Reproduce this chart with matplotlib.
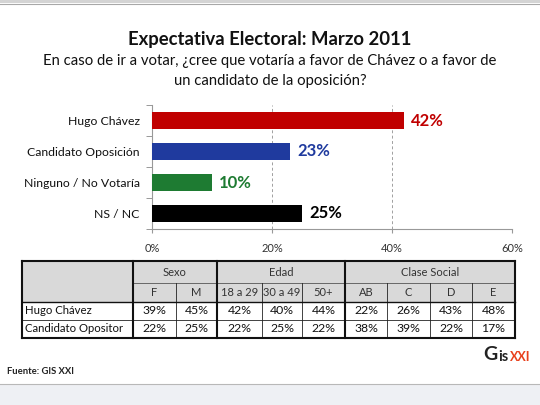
import matplotlib
matplotlib.use("Agg")
import matplotlib.pyplot as plt
from matplotlib.patches import Rectangle

plt.rcParams["font.family"] = ["Lato", "DejaVu Sans"]

# --- data ---
categories = ["Hugo Chávez", "Candidato Oposición", "Ninguno / No Votaría", "NS / NC"]
values = [42, 23, 10, 25]
bar_colors = ["#c00000", "#1f3a9e", "#1e7b32", "#000000"]
label_colors = ["#c00000", "#1f3a9e", "#1e7b32", "#000000"]
xticks = [0, 20, 40, 60]

groups = ["Sexo", "Edad", "Clase Social"]
group_sizes = [2, 3, 4]
subheaders = ["F", "M", "18 a 29", "30 a 49", "50+", "AB", "C", "D", "E"]
row_labels = ["Hugo Chávez", "Candidato Opositor"]
row_chavez = [39, 45, 42, 40, 44, 22, 26, 43, 48]
row_opositor = [22, 25, 22, 25, 22, 38, 39, 22, 17]

W, H = 540, 405
fig = plt.figure(figsize=(W / 100, H / 100), dpi=100, facecolor="white")

# background / frame overlay in pixel coords
bg = fig.add_axes([0, 0, 1, 1])
bg.set_xlim(0, W)
bg.set_ylim(H, 0)
bg.axis("off")
bg.add_patch(Rectangle((0, 0), W, 3, color="#d4d4d4", lw=0))
bg.plot([0, W], [3.5, 3.5], color="#a8a8a8", lw=0.8)
bg.add_patch(Rectangle((0, 384), W, H - 384, color="#eef0f4", lw=0))
bg.plot([0, W], [383.5, 383.5], color="#b8b8b8", lw=0.8)

# titles
bg.text(270, 40, "Expectativa Electoral: Marzo 2011", ha="center", va="center",
        fontsize=13.3, fontweight="bold", color="#111111")
bg.text(270, 61, "En caso de ir a votar, ¿cree que votaría a favor de Chávez o a favor de",
        ha="center", va="center", fontsize=10.7, color="#111111")
bg.text(270, 81, "un candidato de la oposición?", ha="center", va="center",
        fontsize=10.7, color="#111111")

# --- bar chart ---
ax = fig.add_axes([152 / W, 1 - 229 / H, (512 - 152) / W, (229 - 105) / H])
ypos = list(range(len(categories)))
ax.barh(ypos, values, height=0.55, color=bar_colors, zorder=3)
ax.set_xlim(0, 60)
ax.set_ylim(len(categories) - 0.5, -0.5)
ax.set_xticks(xticks)
ax.set_xticklabels([f"{t}%" for t in xticks], fontsize=8, color="#333333")
ax.set_yticks(ypos)
ax.set_yticklabels(categories, fontsize=8.8, color="#111111")
ax.set_yticks([i - 0.5 for i in range(len(categories) + 1)], minor=True)
ax.tick_params(axis="y", which="major", length=0, pad=9)
ax.tick_params(axis="y", which="minor", length=4, color="#888888", direction="out")
ax.tick_params(axis="x", length=3, color="#999999", direction="out", pad=7)
for s in ["top", "right"]:
    ax.spines[s].set_visible(False)
for s in ["left", "bottom"]:
    ax.spines[s].set_color("#999999")
    ax.spines[s].set_linewidth(0.8)
for t in xticks[1:]:
    ax.axvline(t, color="#a0a0a0", lw=0.7, ls=(0, (3, 2.5)), zorder=1)
for y, v, c in zip(ypos, values, label_colors):
    ax.annotate(f"{v}%", (v, y), xytext=(5, 0), textcoords="offset points",
                va="center", ha="left", fontsize=12, fontweight="bold", color=c)

# --- table (pixel coords) ---
col_x = [22, 133, 176, 217, 262, 302, 345, 387, 430, 472, 515]
row_y = [261, 283, 302, 320, 338]
thin = 0.6
thick = 1.5

bg.add_patch(Rectangle((col_x[0], row_y[0]), col_x[-1] - col_x[0], row_y[2] - row_y[0],
                       facecolor="#d9d9d9", lw=0))
# thin lines
bg.plot([col_x[1], col_x[-1]], [row_y[1], row_y[1]], color="#555555", lw=thin)
bg.plot([col_x[0], col_x[-1]], [row_y[3], row_y[3]], color="#222222", lw=thin)
for x in col_x[1:-1]:
    bg.plot([x, x], [row_y[1], row_y[-1]], color="#222222", lw=thin)
# thick lines
bg.plot([col_x[0], col_x[-1]], [row_y[2], row_y[2]], color="#111111", lw=1.0)
group_edges = [0, 1]
acc = 1
for n in group_sizes:
    acc += n
    group_edges.append(acc)
for gi in group_edges:
    bg.plot([col_x[gi], col_x[gi]], [row_y[0], row_y[-1]], color="#111111", lw=thick)
bg.plot([col_x[0], col_x[-1]], [row_y[0], row_y[0]], color="#111111", lw=thick)
bg.plot([col_x[0], col_x[-1]], [row_y[-1], row_y[-1]], color="#111111", lw=thick)

tfs = 8.2
for g, a, b in zip(groups, group_edges[1:-1], group_edges[2:]):
    bg.text((col_x[a] + col_x[b]) / 2, (row_y[0] + row_y[1]) / 2, g, ha="center",
            va="center", fontsize=8, color="#333333")
for i, sh in enumerate(subheaders):
    bg.text((col_x[i + 1] + col_x[i + 2]) / 2, (row_y[1] + row_y[2]) / 2, sh,
            ha="center", va="center", fontsize=8, color="#333333")
for r, (lab, vals) in enumerate(zip(row_labels, [row_chavez, row_opositor])):
    yc = (row_y[2 + r] + row_y[3 + r]) / 2
    bg.text(col_x[0] + 3, yc, lab, ha="left", va="center", fontsize=tfs, color="#111111")
    for i, v in enumerate(vals):
        bg.text((col_x[i + 1] + col_x[i + 2]) / 2, yc, f"{v}%", ha="center",
                va="center", fontsize=tfs + 0.6, color="#111111")

# footer
bg.text(7, 371, "Fuente: GIS XXI", ha="left", va="center", fontsize=6.8,
        fontweight="bold", color="#222222")
bg.text(483, 355, "G", ha="left", va="center", fontsize=14, fontweight="bold",
        color="#222222")
bg.text(498, 357, "is", ha="left", va="center", fontsize=10.5, fontweight="bold",
        color="#222222")
bg.text(510, 357, "XXI", ha="left", va="center", fontsize=9, fontweight="bold",
        color="#e8401c")

fig.savefig("out.png", dpi=100, facecolor="white")
